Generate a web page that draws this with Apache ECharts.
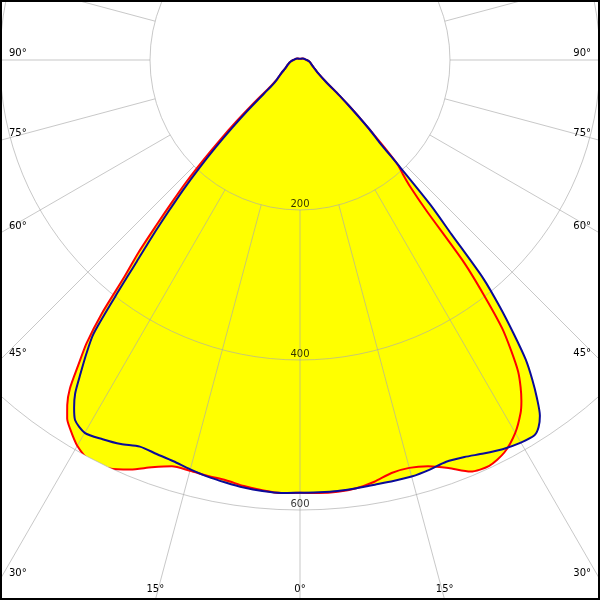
<!DOCTYPE html>
<html>
<head>
<meta charset="utf-8">
<script src="https://cdn.jsdelivr.net/npm/echarts@6/dist/echarts.min.js"></script>
<style>
html,body{margin:0;padding:0;background:#fff;}
#chart{width:600px;height:600px;}
</style>
</head>
<body>
<div id="chart"></div>
<script>
// gamma angles (degrees from nadir), one half of the diagram
const angleHalf = [0, 2.5, 5, 7.5, 10, 12.5, 15, 17.5, 20, 22.5, 25, 27.5, 30, 32, 33, 34, 35, 36, 37, 38, 39, 40, 41, 42, 43, 44, 45, 46, 47, 48, 50, 55, 60, 70, 80, 90, 120, 150, 180];
// luminous intensity (cd) - red curve
const redLeft  = [577, 578, 576, 573, 569, 568, 567, 568, 578, 591, 601, 604, 594, 579, 570, 555, 535, 503, 473, 430, 372, 335, 292, 255, 222, 186, 151, 118, 85, 56, 40, 30, 23, 17, 13, 9, 4, 2, 1];
const redRight = [577, 578, 578, 576, 571, 564, 563, 568, 579, 594, 597, 590, 574, 555, 542, 526, 507, 479, 448, 400, 348, 262, 224, 205, 192, 162, 132, 110, 88, 70, 45, 28, 22, 16, 13, 9, 4, 2, 1];
// luminous intensity (cd) - blue curve
const blueLeft  = [579, 578, 577, 575, 572, 569, 565, 561, 559, 558, 565, 570, 574, 566, 553, 536, 510, 485, 458, 400, 346, 305, 266, 232, 197, 162, 128, 97, 65, 48, 40, 30, 23, 17, 13, 9, 4, 2, 1];
const blueRight = [577, 577, 577, 576, 575, 575, 575, 573, 570, 573, 579, 585, 589, 590, 584, 572, 551, 527, 500, 462, 423, 380, 308, 260, 197, 152, 132, 108, 88, 72, 45, 28, 22, 16, 13, 9, 4, 2, 1];
// axis ticks
const radiusTicks = [200, 400, 600];
const angleTickValues = [0, 15, 30, 45, 60, 75, 90];
const angleTickLabels = ['0°', '15°', '30°', '45°', '60°', '75°', '90°'];

const CX = 300, CY = 60, R = 450, RMAX = 600;

function buildCurve(left, right) {
  const out = [];
  for (let i = angleHalf.length - 1; i >= 1; i--) out.push([left[i], -angleHalf[i]]);
  for (let i = 0; i < angleHalf.length; i++) out.push([right[i], angleHalf[i]]);
  return out;
}
const redData = buildCurve(redLeft, redRight);
const blueData = buildCurve(blueLeft, blueRight);

// angle labels placed where each spoke leaves the frame
const W = 600, H = 600;
const labelGraphics = [];
angleTickValues.forEach(function (deg, k) {
  const sides = deg === 0 ? [0] : [-1, 1];
  sides.forEach(function (side) {
    const a = deg * Math.PI / 180;
    const dx = side * Math.sin(a), dy = Math.cos(a);
    const tx = Math.abs(dx) > 1e-9 ? (side > 0 ? (W - CX) : CX) / Math.abs(dx) : Infinity;
    const ty = dy > 1e-9 ? (H - CY) / dy : Infinity;
    let el;
    if (tx <= ty) {
      const y = CY + tx * dy;
      el = { type: 'text', x: side < 0 ? 9 : W - 9, y: y - 6.5,
        style: { text: angleTickLabels[k], fill: '#000', font: '10px "DejaVu Sans"',
          textAlign: side < 0 ? 'left' : 'right', textVerticalAlign: 'middle' }, z: 50 };
    } else {
      const x = CX + ty * dx;
      el = { type: 'text', x: x, y: H - 11,
        style: { text: angleTickLabels[k], fill: '#000', font: '10px "DejaVu Sans"',
          textAlign: 'center', textVerticalAlign: 'middle' }, z: 50 };
    }
    labelGraphics.push(el);
  });
});
labelGraphics.push({ type: 'rect', shape: { x: 1, y: 1, width: W - 2, height: H - 2 },
  style: { fill: 'none', stroke: '#000', lineWidth: 2 }, z: 100 });

const gridLine = { color: '#aaaaaa', width: 1, opacity: 0.65 };
const SMOOTH = 0.25;

const chart = echarts.init(document.getElementById('chart'), null, { renderer: 'canvas' });
chart.setOption({
  animation: false,
  backgroundColor: '#ffffff',
  polar: [
    { center: [CX, CY], radius: R },
    { center: [CX, CY], radius: [R / RMAX * 200, 640] }
  ],
  angleAxis: [
    { polarIndex: 0, type: 'value', min: -180, max: 180, startAngle: 90, clockwise: false,
      axisLine: { show: false }, axisTick: { show: false }, axisLabel: { show: false },
      splitLine: { show: false } },
    { polarIndex: 1, type: 'value', min: 0, max: 360, interval: 15, startAngle: 90, z: 3,
      axisLine: { show: false }, axisTick: { show: false }, axisLabel: { show: false },
      splitLine: { show: true, lineStyle: gridLine } }
  ],
  radiusAxis: [
    { polarIndex: 0, type: 'value', min: 0, max: RMAX, interval: 200, z: 3,
      axisLine: { show: false }, axisTick: { show: false }, axisLabel: { show: false },
      splitLine: { show: true, lineStyle: gridLine } },
    { polarIndex: 1, type: 'value', min: 0, max: 1, show: false,
      axisLine: { show: false }, axisTick: { show: false }, axisLabel: { show: false },
      splitLine: { show: false } }
  ],
  series: [
    { type: 'line', coordinateSystem: 'polar', polarIndex: 0, data: redData, z: 1, smooth: SMOOTH,
      showSymbol: false, symbol: 'none', lineStyle: { width: 0, opacity: 0 },
      areaStyle: { color: '#ffff00', opacity: 1 } },
    { type: 'line', coordinateSystem: 'polar', polarIndex: 0, data: blueData, z: 1, smooth: SMOOTH,
      showSymbol: false, symbol: 'none', lineStyle: { width: 0, opacity: 0 },
      areaStyle: { color: '#ffff00', opacity: 1 } },
    { type: 'line', coordinateSystem: 'polar', polarIndex: 0, data: redData, z: 5, smooth: SMOOTH,
      showSymbol: false, symbol: 'none', lineStyle: { color: '#ff0000', width: 2 } },
    { type: 'line', coordinateSystem: 'polar', polarIndex: 0, data: blueData, z: 6, smooth: SMOOTH,
      showSymbol: false, symbol: 'none', lineStyle: { color: '#0a0a9a', width: 2 } },
    { type: 'scatter', coordinateSystem: 'polar', polarIndex: 0, z: 7,
      data: radiusTicks.map(function (v) { return [v, 0]; }),
      symbolSize: 0, silent: true,
      label: { show: true, position: 'top', distance: 1, color: '#000',
        fontFamily: 'DejaVu Sans', fontSize: 10,
        formatter: function (p) { return String(p.value[0]); } } }
  ],
  graphic: labelGraphics
});
</script>
</body>
</html>
